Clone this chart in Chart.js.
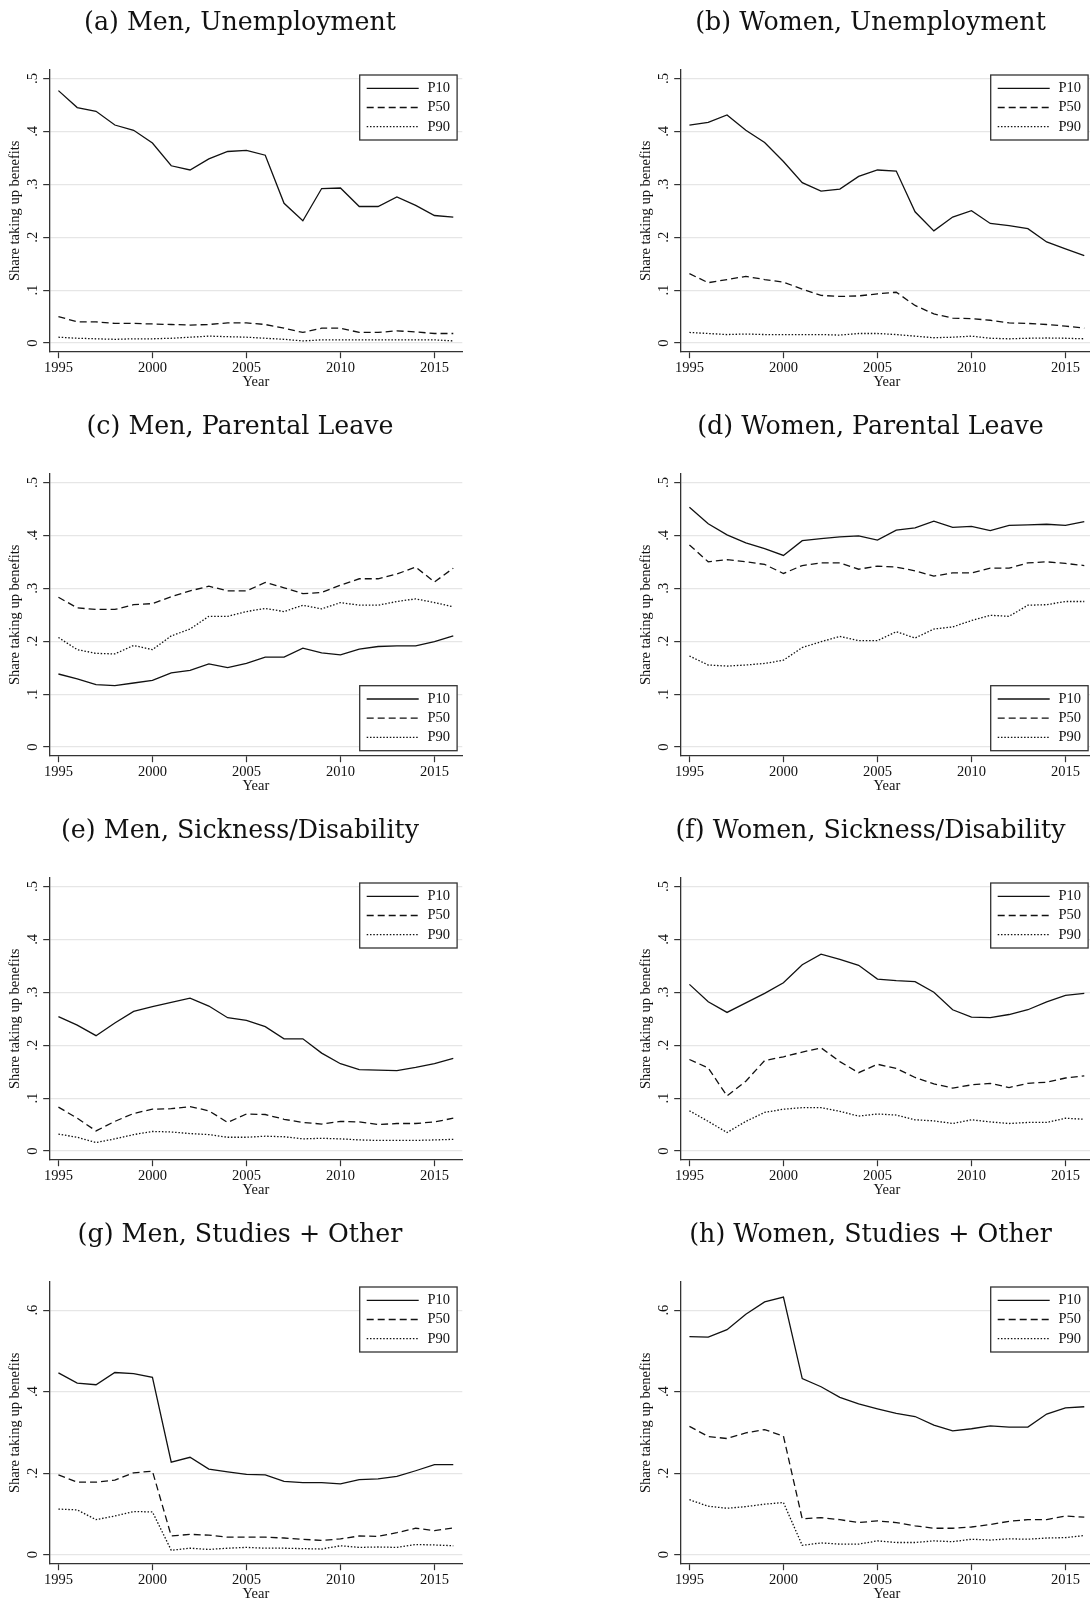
<!DOCTYPE html>
<html>
<head>
<meta charset="utf-8">
<script src="https://cdn.jsdelivr.net/npm/chart.js@4.4.1/dist/chart.umd.min.js"></script>
<style>
html, body { margin: 0; padding: 0; background: #fff; overflow: hidden; }
body { width: 1090px; height: 1600px; position: relative; }
.panel { position: absolute; width: 480px; height: 404px; }
.panel .ttl { position: absolute; left: 0; width: 480px; top: 7px; line-height: 30px; margin: 0;
  text-align: center; font-family: "DejaVu Serif", serif; font-size: 25.3px; font-weight: normal; color: #111; white-space: nowrap; }
.panel canvas { position: absolute; left: 0; top: 0; }
</style>
</head>
<body>
<script>
// years on the x axis
var years = [1995, 1996, 1997, 1998, 1999, 2000, 2001, 2002, 2003, 2004, 2005,
             2006, 2007, 2008, 2009, 2010, 2011, 2012, 2013, 2014, 2015, 2016];
var xTicks = [1995, 2000, 2005, 2010, 2015];
var yTicksA = [0, 0.1, 0.2, 0.3, 0.4, 0.5];
var yTicksB = [0, 0.2, 0.4, 0.6];
var seriesNames = ['P10', 'P50', 'P90'];

// (a) Men, Unemployment
var menUnempP10 = [0.477, 0.445, 0.438, 0.412, 0.402, 0.378, 0.335, 0.327, 0.348, 0.362, 0.364,
                   0.355, 0.264, 0.231, 0.292, 0.293, 0.258, 0.258, 0.276, 0.260, 0.241, 0.238];
var menUnempP50 = [0.050, 0.040, 0.040, 0.037, 0.037, 0.036, 0.035, 0.034, 0.035, 0.038, 0.038,
                   0.035, 0.028, 0.020, 0.028, 0.028, 0.020, 0.020, 0.023, 0.021, 0.018, 0.018];
var menUnempP90 = [0.011, 0.009, 0.008, 0.007, 0.008, 0.008, 0.009, 0.011, 0.013, 0.012, 0.011,
                   0.009, 0.007, 0.004, 0.006, 0.006, 0.006, 0.006, 0.006, 0.006, 0.006, 0.004];
// (b) Women, Unemployment
var womUnempP10 = [0.412, 0.417, 0.431, 0.402, 0.379, 0.343, 0.303, 0.287, 0.291, 0.315, 0.327,
                   0.325, 0.248, 0.212, 0.238, 0.250, 0.226, 0.222, 0.216, 0.191, 0.178, 0.165];
var womUnempP50 = [0.131, 0.114, 0.120, 0.126, 0.120, 0.115, 0.102, 0.090, 0.088, 0.089, 0.093,
                   0.096, 0.071, 0.055, 0.047, 0.046, 0.043, 0.038, 0.037, 0.035, 0.032, 0.028];
var womUnempP90 = [0.020, 0.018, 0.016, 0.017, 0.016, 0.016, 0.016, 0.016, 0.015, 0.018, 0.018,
                   0.016, 0.013, 0.010, 0.011, 0.013, 0.009, 0.008, 0.009, 0.0095, 0.009, 0.008];
// (c) Men, Parental Leave
var menParP10 = [0.138, 0.129, 0.118, 0.116, 0.121, 0.126, 0.140, 0.145, 0.157, 0.150, 0.158,
                 0.170, 0.170, 0.187, 0.178, 0.174, 0.185, 0.190, 0.191, 0.191, 0.199, 0.210];
var menParP50 = [0.283, 0.263, 0.260, 0.260, 0.269, 0.271, 0.284, 0.295, 0.304, 0.295, 0.295,
                 0.311, 0.301, 0.290, 0.292, 0.306, 0.318, 0.318, 0.327, 0.340, 0.312, 0.338];
var menParP90 = [0.207, 0.184, 0.177, 0.176, 0.192, 0.184, 0.210, 0.223, 0.247, 0.247, 0.256,
                 0.262, 0.256, 0.268, 0.261, 0.273, 0.268, 0.268, 0.275, 0.280, 0.273, 0.265];
// (d) Women, Parental Leave
var womParP10 = [0.453, 0.422, 0.401, 0.386, 0.375, 0.362, 0.390, 0.394, 0.397, 0.399, 0.391,
                 0.410, 0.414, 0.427, 0.415, 0.417, 0.409, 0.419, 0.420, 0.421, 0.419, 0.426];
var womParP50 = [0.382, 0.350, 0.354, 0.350, 0.345, 0.328, 0.343, 0.348, 0.348, 0.336, 0.342,
                 0.340, 0.333, 0.323, 0.329, 0.329, 0.338, 0.338, 0.348, 0.350, 0.347, 0.343];
var womParP90 = [0.172, 0.155, 0.153, 0.155, 0.158, 0.164, 0.188, 0.199, 0.209, 0.201, 0.201,
                 0.218, 0.206, 0.223, 0.227, 0.239, 0.249, 0.247, 0.268, 0.269, 0.275, 0.275];
// (e) Men, Sickness/Disability
var menSickP10 = [0.254, 0.238, 0.218, 0.242, 0.264, 0.273, 0.281, 0.289, 0.274, 0.252, 0.247,
                  0.235, 0.212, 0.212, 0.185, 0.165, 0.154, 0.153, 0.152, 0.158, 0.165, 0.175];
var menSickP50 = [0.083, 0.062, 0.038, 0.056, 0.071, 0.079, 0.080, 0.084, 0.076, 0.054, 0.070,
                  0.069, 0.060, 0.054, 0.051, 0.056, 0.055, 0.050, 0.052, 0.052, 0.055, 0.062];
var menSickP90 = [0.032, 0.026, 0.016, 0.023, 0.031, 0.037, 0.036, 0.033, 0.031, 0.026, 0.026,
                  0.028, 0.027, 0.023, 0.024, 0.023, 0.021, 0.020, 0.020, 0.020, 0.021, 0.022];
// (f) Women, Sickness/Disability
var womSickP10 = [0.315, 0.282, 0.262, 0.280, 0.298, 0.318, 0.352, 0.372, 0.362, 0.351, 0.325,
                  0.322, 0.320, 0.300, 0.267, 0.253, 0.252, 0.258, 0.267, 0.282, 0.294, 0.298];
var womSickP50 = [0.173, 0.157, 0.104, 0.132, 0.171, 0.178, 0.187, 0.195, 0.169, 0.148, 0.164,
                  0.156, 0.139, 0.127, 0.119, 0.125, 0.128, 0.120, 0.128, 0.130, 0.138, 0.142];
var womSickP90 = [0.076, 0.056, 0.035, 0.056, 0.073, 0.079, 0.082, 0.082, 0.075, 0.066, 0.070,
                  0.068, 0.059, 0.057, 0.052, 0.059, 0.055, 0.052, 0.054, 0.054, 0.062, 0.060];
// (g) Men, Studies + Other
var menStudP10 = [0.446, 0.421, 0.417, 0.447, 0.444, 0.435, 0.227, 0.239, 0.210, 0.203, 0.197,
                  0.196, 0.180, 0.177, 0.177, 0.174, 0.184, 0.186, 0.192, 0.206, 0.221, 0.221];
var menStudP50 = [0.196, 0.178, 0.178, 0.183, 0.201, 0.205, 0.046, 0.050, 0.048, 0.043, 0.043,
                  0.043, 0.041, 0.038, 0.035, 0.039, 0.046, 0.045, 0.054, 0.065, 0.059, 0.066];
var menStudP90 = [0.112, 0.110, 0.086, 0.095, 0.106, 0.105, 0.011, 0.016, 0.013, 0.016, 0.018,
                  0.016, 0.016, 0.015, 0.014, 0.022, 0.018, 0.019, 0.018, 0.025, 0.024, 0.022];
// (h) Women, Studies + Other
var womStudP10 = [0.535, 0.534, 0.552, 0.590, 0.620, 0.632, 0.432, 0.412, 0.386, 0.370, 0.358,
                  0.347, 0.339, 0.318, 0.304, 0.309, 0.316, 0.313, 0.313, 0.345, 0.360, 0.363];
var womStudP50 = [0.315, 0.290, 0.285, 0.299, 0.307, 0.291, 0.088, 0.091, 0.086, 0.079, 0.083,
                  0.079, 0.071, 0.065, 0.065, 0.068, 0.074, 0.082, 0.086, 0.086, 0.095, 0.092];
var womStudP90 = [0.135, 0.119, 0.114, 0.118, 0.124, 0.128, 0.023, 0.029, 0.026, 0.026, 0.034,
                  0.030, 0.030, 0.034, 0.032, 0.038, 0.036, 0.039, 0.038, 0.041, 0.042, 0.047];

var panels = [
  { title: '(a) Men, Unemployment',          s: [menUnempP10, menUnempP50, menUnempP90], big: false, leg: 'top' },
  { title: '(b) Women, Unemployment',        s: [womUnempP10, womUnempP50, womUnempP90], big: false, leg: 'top' },
  { title: '(c) Men, Parental Leave',        s: [menParP10, menParP50, menParP90],       big: false, leg: 'bottom' },
  { title: '(d) Women, Parental Leave',      s: [womParP10, womParP50, womParP90],       big: false, leg: 'bottom' },
  { title: '(e) Men, Sickness/Disability',   s: [menSickP10, menSickP50, menSickP90],    big: false, leg: 'top' },
  { title: '(f) Women, Sickness/Disability', s: [womSickP10, womSickP50, womSickP90],    big: false, leg: 'top' },
  { title: '(g) Men, Studies + Other',       s: [menStudP10, menStudP50, menStudP90],    big: true,  leg: 'top' },
  { title: '(h) Women, Studies + Other',     s: [womStudP10, womStudP50, womStudP90],    big: true,  leg: 'top' }
];

var serif = '"Liberation Serif", "Times New Roman", serif';
var smallFont = { family: serif, size: 14.5 };
var ink = '#111';
var dashes = [[], [7, 4], [1.5, 1.8]];

// legend box drawn inside the plot region (Stata style)
var boxLegend = {
  id: 'boxLegend',
  afterDraw: function (chart, args, opts) {
    var ctx = chart.ctx, a = chart.chartArea;
    var w = 97.4, h = 65;
    var x = a.right - 5.2 - w;
    var y = opts.position === 'bottom' ? a.bottom - 5 - h : a.top + 5;
    ctx.save();
    ctx.fillStyle = '#fff';
    ctx.fillRect(x, y, w, h);
    ctx.strokeStyle = '#333';
    ctx.lineWidth = 1.3;
    ctx.strokeRect(x, y, w, h);
    chart.data.datasets.forEach(function (ds, i) {
      var ly = y + 13.3 + i * 19.2;
      ctx.beginPath();
      ctx.setLineDash(ds.borderDash || []);
      ctx.lineWidth = ds.borderWidth;
      ctx.strokeStyle = ds.borderColor;
      ctx.moveTo(x + 7, ly);
      ctx.lineTo(x + 59, ly);
      ctx.stroke();
      ctx.setLineDash([]);
      ctx.fillStyle = ink;
      ctx.font = '14.5px ' + serif;
      ctx.textBaseline = 'middle';
      ctx.textAlign = 'left';
      ctx.fillText(ds.label, x + 67.8, ly);
    });
    ctx.restore();
  }
};

// y tick labels rotated like Stata (".5", ".4", ... "0")
var rotatedYTicks = {
  id: 'rotatedYTicks',
  afterDraw: function (chart) {
    var s = chart.scales.y, ctx = chart.ctx;
    ctx.save();
    ctx.font = '14.5px ' + serif;
    ctx.fillStyle = ink;
    ctx.textAlign = 'center';
    ctx.textBaseline = 'alphabetic';
    s.ticks.forEach(function (t) {
      var py = s.getPixelForValue(t.value);
      var txt = t.value === 0 ? '0' : t.value.toFixed(1).replace(/^0/, '');
      ctx.save();
      ctx.translate(36.5, py);
      ctx.rotate(-Math.PI / 2);
      ctx.fillText(txt, 0, 0);
      ctx.restore();
    });
    ctx.restore();
  }
};

panels.forEach(function (p, idx) {
  var col = idx % 2, row = Math.floor(idx / 2);
  var div = document.createElement('div');
  div.className = 'panel';
  div.style.left = (col === 0 ? 0 : 630.5) + 'px';
  div.style.top = (row * 404) + 'px';
  var ttl = document.createElement('div');
  ttl.className = 'ttl';
  ttl.textContent = p.title;
  var cv = document.createElement('canvas');
  cv.width = 480; cv.height = 404;
  div.appendChild(cv);
  div.appendChild(ttl);
  document.body.appendChild(div);

  var yTicks = p.big ? yTicksB : yTicksA;
  new Chart(cv.getContext('2d'), {
    type: 'line',
    data: {
      datasets: p.s.map(function (vals, i) {
        return {
          label: seriesNames[i],
          data: years.map(function (yr, k) { return { x: yr, y: vals[k] }; }),
          borderColor: '#111',
          borderWidth: 1.3,
          borderDash: dashes[i],
          pointRadius: 0,
          tension: 0,
          fill: false
        };
      })
    },
    options: {
      responsive: false,
      animation: false,
      events: [],
      layout: { autoPadding: false, padding: { left: 0, top: 70, right: 17.7, bottom: 0 } },
      plugins: {
        legend: { display: false },
        tooltip: { enabled: false },
        boxLegend: { position: p.leg }
      },
      scales: {
        x: {
          type: 'linear',
          min: 1994.52,
          max: 2016.48,
          afterBuildTicks: function (s) { s.ticks = xTicks.map(function (v) { return { value: v }; }); },
          afterFit: function (s) { s.height = 404 - 351.7; },
          grid: { drawOnChartArea: false, drawTicks: true, tickLength: 6.5, tickColor: '#333', tickWidth: 1.2 },
          border: { display: true, color: '#333', width: 1.3 },
          ticks: { font: smallFont, color: ink, padding: 1, maxRotation: 0, autoSkip: false,
                   callback: function (v) { return String(v); } },
          title: { display: true, text: 'Year', font: smallFont, color: ink, padding: { top: 0, bottom: 13.6 } }
        },
        y: {
          min: p.big ? -0.022 : -0.0164,
          max: p.big ? 0.669 : 0.516,
          afterBuildTicks: function (s) { s.ticks = yTicks.map(function (v) { return { value: v }; }); },
          afterFit: function (s) { s.width = 49.4; },
          grid: { color: '#e6e6e6', lineWidth: 1.2, drawTicks: true, tickLength: 6.2, tickColor: '#333', tickWidth: 1.2 },
          border: { display: true, color: '#333', width: 1.3 },
          ticks: { display: false },
          title: { display: true, text: 'Share taking up benefits', font: smallFont, color: ink, padding: { top: 6.9, bottom: 0 } }
        }
      }
    },
    plugins: [boxLegend, rotatedYTicks]
  });
});
</script>
</body>
</html>
